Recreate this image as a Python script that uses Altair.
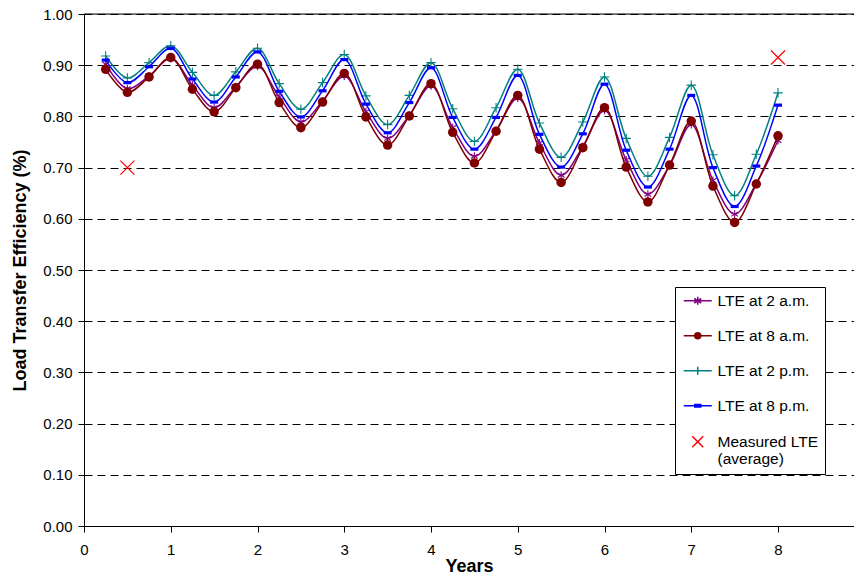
import altair as alt
import pandas as pd

years = [0.25, 0.5, 0.75, 1.0, 1.25, 1.5, 1.75, 2.0, 2.25, 2.5, 2.75, 3.0,
         3.25, 3.5, 3.75, 4.0, 4.25, 4.5, 4.75, 5.0, 5.25, 5.5, 5.75, 6.0,
         6.25, 6.5, 6.75, 7.0, 7.25, 7.5, 7.75, 8.0]

lte_2am = [0.902, 0.854, 0.879, 0.913, 0.861, 0.817, 0.858, 0.898, 0.838, 0.789, 0.830, 0.879,
           0.809, 0.757, 0.802, 0.860, 0.778, 0.722, 0.772, 0.836, 0.748, 0.685, 0.741, 0.812,
           0.715, 0.648, 0.704, 0.784, 0.675, 0.609, 0.669, 0.753]
lte_8am = [0.892, 0.847, 0.877, 0.915, 0.853, 0.809, 0.856, 0.902, 0.827, 0.778, 0.828, 0.884,
           0.799, 0.744, 0.801, 0.864, 0.769, 0.709, 0.771, 0.841, 0.736, 0.671, 0.739, 0.817,
           0.701, 0.633, 0.705, 0.791, 0.664, 0.593, 0.668, 0.762]
lte_2pm = [0.918, 0.875, 0.905, 0.938, 0.886, 0.841, 0.887, 0.933, 0.864, 0.814, 0.866, 0.921,
           0.840, 0.784, 0.841, 0.905, 0.815, 0.751, 0.817, 0.892, 0.787, 0.720, 0.789, 0.877,
           0.757, 0.683, 0.759, 0.861, 0.725, 0.645, 0.726, 0.846]
lte_8pm = [0.910, 0.866, 0.897, 0.933, 0.873, 0.828, 0.877, 0.926, 0.849, 0.799, 0.850, 0.911,
           0.824, 0.768, 0.827, 0.895, 0.798, 0.736, 0.798, 0.880, 0.765, 0.701, 0.766, 0.863,
           0.734, 0.662, 0.736, 0.841, 0.700, 0.624, 0.703, 0.822]

measured_years = [0.5, 8.0]
measured_lte = [0.700, 0.915]

series_names = ["LTE at 2 a.m.", "LTE at 8 a.m.", "LTE at 2 p.m.", "LTE at 8 p.m.",
                "Measured LTE (average)"]
series_colors = ["#800080", "#800000", "#008080", "#0000FF", "#FF0000"]
y_ticks = [0.0, 0.1, 0.2, 0.3, 0.4, 0.5, 0.6, 0.7, 0.8, 0.9, 1.0]
x_ticks = [0, 1, 2, 3, 4, 5, 6, 7, 8]

# marker shapes (unit square paths)
STAR = "M0,-1L0,1M-0.85,-0.55L0.85,0.55M-0.85,0.55L0.85,-0.55"
PLUS = "M-1,0L1,0M0,-1L0,1"
DASH = "M-1,-0.4L1,-0.4L1,0.4L-1,0.4Z"
XMARK = "M-1,-1L1,1M-1,1L1,-1"

# legend symbols: line segment + marker (unit = 5px, line spans -1..4.6)
LG_STAR = "M-1,0L4.6,0M1.8,-0.8L1.8,0.8M1.1,-0.45L2.5,0.45M1.1,0.45L2.5,-0.45"
LG_CIRC = "M-1,0L4.6,0M2.4,0A0.6,0.6 0 1,1 1.2,0A0.6,0.6 0 1,1 2.4,0Z"
LG_PLUS = "M-1,0L4.6,0M1.8,-0.8L1.8,0.8"
LG_DASH = "M-1,0L4.6,0M1.2,-0.25L2.4,-0.25L2.4,0.25L1.2,0.25Z"
LG_X = "M0.7,-1.1L2.9,1.1M0.7,1.1L2.9,-1.1"
legend_paths = [LG_STAR, LG_CIRC, LG_PLUS, LG_DASH, LG_X]

rows = []
for name, vals in zip(series_names[:4], [lte_2am, lte_8am, lte_2pm, lte_8pm]):
    for x, v in zip(years, vals):
        rows.append({"series": name, "Years": x, "LTE": v})
df = pd.DataFrame(rows)
meas = pd.DataFrame({"Years": measured_years, "LTE": measured_lte})
legend_df = pd.DataFrame({"series": series_names})
top_df = pd.DataFrame({"LTE": [1.0]})

W, H = 770, 512
FONT = "Liberation Sans"

x_enc = alt.X("Years:Q",
              scale=alt.Scale(domain=[0, 8.876], nice=False, zero=False),
              axis=alt.Axis(values=x_ticks, title="Years", format="d", grid=False,
                            tickSize=6, labelPadding=10, tickColor="black",
                            domainColor="black", labelFontSize=15, labelColor="black",
                            titleFontSize=18, titleFontWeight="bold", titleColor="black",
                            titleY=45, titleBaseline="alphabetic", labelFlush=False))
y_enc = alt.Y("LTE:Q",
              scale=alt.Scale(domain=[0, 1], nice=False, zero=True),
              axis=alt.Axis(values=y_ticks, format=".2f",
                            title="Load Transfer Efficiency (%)",
                            grid=True, gridColor="black", gridDash=[8, 5], gridWidth=1,
                            tickSize=6, labelPadding=6, tickColor="black",
                            domainColor="black", labelFontSize=15, labelColor="black",
                            titleFontSize=18, titleFontWeight="bold", titleColor="black",
                            titleX=-64, titleY=256, titleAlign="center",
                            titleBaseline="middle", titleAngle=270))

base = alt.Chart(df).encode(x=x_enc, y=y_enc)

marker_specs = [
    dict(shape=STAR, size=64, filled=False, strokeWidth=1.1),
    dict(shape="circle", size=90, filled=True, strokeWidth=0),
    dict(shape=PLUS, size=90, filled=False, strokeWidth=1.1),
    dict(shape=DASH, size=64, filled=True, strokeWidth=0),
]

layers = []
top_rule = alt.Chart(top_df).mark_rule(color="black", strokeWidth=1).encode(
    y=y_enc, x=alt.value(0), x2=alt.value(W))
layers.append(top_rule)

for name, col, spec in zip(series_names[:4], series_colors[:4], marker_specs):
    sub = base.transform_filter(alt.datum.series == name)
    layers.append(sub.mark_line(interpolate="catmull-rom", color=col, strokeWidth=1.5))
    layers.append(sub.mark_point(color=col, opacity=1, **spec))

layers.append(alt.Chart(meas).mark_point(shape=XMARK, size=196, filled=False,
                                         color="#FF0000", strokeWidth=1.2, opacity=1)
              .encode(x=x_enc, y=y_enc))

legend = alt.Legend(title=None, orient="none", legendX=591, legendY=273,
                    fillColor="white", strokeColor="black", padding=6,
                    labelFont=FONT, labelFontSize=15.5, labelColor="black",
                    symbolSize=100, symbolStrokeWidth=1.5, rowPadding=18,
                    labelOffset=21, labelLimit=0,
                    labelExpr="datum.label == 'Measured LTE (average)' ? ['Measured LTE', '(average)'] : datum.label")

color_scale = alt.Scale(domain=series_names, range=series_colors)
legend_layer = alt.Chart(legend_df).transform_filter("false").mark_point(
    filled=True, opacity=1, strokeWidth=1.5).encode(
    fill=alt.Fill("series:N", scale=color_scale, legend=legend),
    stroke=alt.Stroke("series:N", scale=color_scale, legend=legend),
    shape=alt.Shape("series:N", scale=alt.Scale(domain=series_names, range=legend_paths),
                    legend=legend),
)
layers.append(legend_layer)

chart = alt.layer(*layers).properties(
    width=W, height=H,
    autosize=alt.AutoSizeParams(type="none"),
    padding={"left": 76, "top": 6, "right": 0, "bottom": 48},
).configure_view(stroke=None).configure(font=FONT)

chart.save("out.html", embed_options={"renderer": "svg", "actions": False})
